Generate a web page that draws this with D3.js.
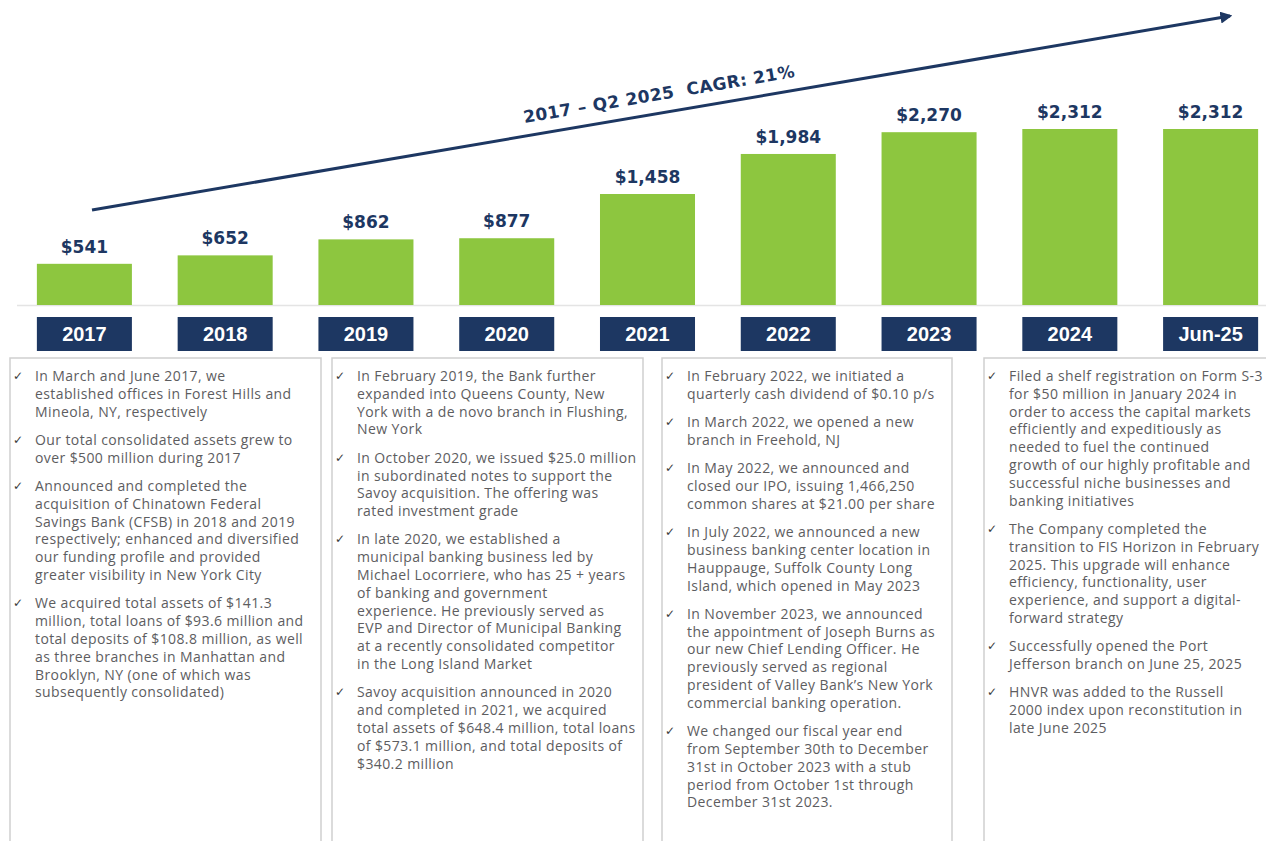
<!DOCTYPE html>
<html>
<head>
<meta charset="utf-8">
<script src="https://cdn.jsdelivr.net/npm/d3@7"></script>
<style>
  html, body { margin: 0; padding: 0; background: #ffffff; }
  svg { display: block; }
</style>
</head>
<body>
<svg id="chart" width="1266" height="841"></svg>
<script>
// categories and total assets ($ millions)
const periods = ['2017', '2018', '2019', '2020', '2021', '2022', '2023', '2024', 'Jun-25'];
const assets = [541, 652, 862, 877, 1458, 1984, 2270, 2312, 2312];
const valueLabels = ['$541', '$652', '$862', '$877', '$1,458', '$1,984', '$2,270', '$2,312', '$2,312'];
const cagrLabel = '2017 \u2013 Q2 2025  CAGR: 21%';

// milestone bullets, one list per column (lines kept as broken in the slide)
const col2017 = [
  ['In March and June 2017, we', 'established offices in Forest Hills and', 'Mineola, NY, respectively'],
  ['Our total consolidated assets grew to', 'over $500 million during 2017'],
  ['Announced and completed the', 'acquisition of Chinatown Federal', 'Savings Bank (CFSB) in 2018 and 2019', 'respectively; enhanced and diversified', 'our funding profile and provided', 'greater visibility in New York City'],
  ['We acquired total assets of $141.3', 'million, total loans of $93.6 million and', 'total deposits of $108.8 million, as well', 'as three branches in Manhattan and', 'Brooklyn, NY (one of which was', 'subsequently consolidated)']
];
const col2019 = [
  ['In February 2019, the Bank further', 'expanded into Queens County, New', 'York with a de novo branch in Flushing,', 'New York'],
  ['In October 2020, we issued $25.0 million', 'in subordinated notes to support the', 'Savoy acquisition. The offering was', 'rated investment grade'],
  ['In late 2020, we established a', 'municipal banking business led by', 'Michael Locorriere, who has 25 + years', 'of banking and government', 'experience. He previously served as', 'EVP and Director of Municipal Banking', 'at a recently consolidated competitor', 'in the Long Island Market'],
  ['Savoy acquisition announced in 2020', 'and completed in 2021, we acquired', 'total assets of $648.4 million, total loans', 'of $573.1 million, and total deposits of', '$340.2 million']
];
const col2022 = [
  ['In February 2022, we initiated a', 'quarterly cash dividend of $0.10 p/s'],
  ['In March 2022, we opened a new', 'branch in Freehold, NJ'],
  ['In May 2022, we announced and', 'closed our IPO, issuing 1,466,250', 'common shares at $21.00 per share'],
  ['In July 2022, we announced a new', 'business banking center location in', 'Hauppauge, Suffolk County Long', 'Island, which opened in May 2023'],
  ['In November 2023, we announced', 'the appointment of Joseph Burns as', 'our new Chief Lending Officer. He', 'previously served as regional', 'president of Valley Bank\u2019s New York', 'commercial banking operation.'],
  ['We changed our fiscal year end', 'from September 30th to December', '31st in October 2023 with a stub', 'period from October 1st through', 'December 31st 2023.']
];
const col2024 = [
  ['Filed a shelf registration on Form S-3', 'for $50 million in January 2024 in', 'order to access the capital markets', 'efficiently and expeditiously as', 'needed to fuel the continued', 'growth of our highly profitable and', 'successful niche businesses and', 'banking initiatives'],
  ['The Company completed the', 'transition to FIS Horizon in February', '2025. This upgrade will enhance', 'efficiency, functionality, user', 'experience, and support a digital-', 'forward strategy'],
  ['Successfully opened the Port', 'Jefferson branch on June 25, 2025'],
  ['HNVR was added to the Russell', '2000 index upon reconstitution in', 'late June 2025']
];
const columns = [col2017, col2019, col2022, col2024];

const navy = '#1d3762';
const green = '#8dc63f';
const textGrey = '#5d5d5f';

const svg = d3.select('#chart');
const baseY = 305;

svg.append('rect').attr('width', 1266).attr('height', 841).attr('fill', '#ffffff');

const x = d3.scaleBand()
  .domain(periods)
  .range([14, 1281])
  .paddingInner(0.325)
  .paddingOuter(0.1625);

const y = d3.scaleLinear()
  .domain([0, 2312])
  .range([baseY, 129]);

// faint baseline
svg.append('line')
  .attr('x1', 17).attr('x2', 1266)
  .attr('y1', baseY + 0.5).attr('y2', baseY + 0.5)
  .attr('stroke', '#e4e4e4').attr('stroke-width', 1.5);

// bars
svg.append('g').selectAll('rect')
  .data(periods)
  .join('rect')
  .attr('x', d => x(d))
  .attr('y', (d, i) => y(assets[i]))
  .attr('width', x.bandwidth())
  .attr('height', (d, i) => baseY - y(assets[i]))
  .attr('fill', green);

// value labels above bars
svg.append('g').selectAll('text')
  .data(periods)
  .join('text')
  .attr('x', d => x(d) + x.bandwidth() / 2)
  .attr('y', (d, i) => y(assets[i]) - 11)
  .attr('text-anchor', 'middle')
  .attr('font-family', 'DejaVu Sans, sans-serif')
  .attr('font-weight', 'bold')
  .attr('font-size', 17)
  .attr('fill', navy)
  .text((d, i) => valueLabels[i]);

// year boxes
const yearG = svg.append('g');
yearG.selectAll('rect')
  .data(periods)
  .join('rect')
  .attr('x', d => x(d))
  .attr('y', 317)
  .attr('width', x.bandwidth())
  .attr('height', 34)
  .attr('fill', navy);
yearG.selectAll('text')
  .data(periods)
  .join('text')
  .attr('x', d => x(d) + x.bandwidth() / 2)
  .attr('y', 341)
  .attr('text-anchor', 'middle')
  .attr('font-family', 'Liberation Sans, Arial, sans-serif')
  .attr('font-weight', 'bold')
  .attr('font-size', 20)
  .attr('fill', '#ffffff')
  .text(d => d);

// growth arrow
const defs = svg.append('defs');
defs.append('marker')
  .attr('id', 'arrowHead')
  .attr('viewBox', '0 0 10 10')
  .attr('refX', 8).attr('refY', 5)
  .attr('markerWidth', 4).attr('markerHeight', 4)
  .attr('orient', 'auto')
  .append('path')
  .attr('d', 'M0,0 L10,5 L0,10 z')
  .attr('fill', navy);

const arrowStart = [92, 210];
const arrowEnd = [1230, 16];
svg.append('line')
  .attr('x1', arrowStart[0]).attr('y1', arrowStart[1])
  .attr('x2', arrowEnd[0]).attr('y2', arrowEnd[1])
  .attr('stroke', navy)
  .attr('stroke-width', 3)
  .attr('marker-end', 'url(#arrowHead)');

const angle = Math.atan2(arrowEnd[1] - arrowStart[1], arrowEnd[0] - arrowStart[0]) * 180 / Math.PI;
svg.append('text')
  .attr('transform', `translate(660,100) rotate(${angle})`)
  .attr('text-anchor', 'middle')
  .attr('font-family', 'DejaVu Sans, sans-serif')
  .attr('font-weight', 'bold')
  .attr('font-size', 17)
  .attr('letter-spacing', 0.4)
  .style('white-space', 'pre')
  .attr('fill', navy)
  .text(cagrLabel);

// milestone columns
const colBoxes = [[10, 321], [332, 643], [662, 952], [984, 1272]];
const lineH = 17.8;
const paraGap = 10.5;

columns.forEach((bullets, c) => {
  const [x0, x1] = colBoxes[c];
  const g = svg.append('g');
  g.append('rect')
    .attr('x', x0).attr('y', 358)
    .attr('width', x1 - x0).attr('height', 500)
    .attr('fill', 'none')
    .attr('stroke', '#cfcfcf')
    .attr('stroke-width', 1.5);

  let yy = 381;
  bullets.forEach(lines => {
    g.append('text')
      .attr('x', x0 + 3).attr('y', yy - 1)
      .attr('font-family', 'DejaVu Sans, sans-serif')
      .attr('font-size', 12)
      .attr('fill', '#3a3a3a')
      .text('\u2713');
    const t = g.append('text')
      .attr('font-family', 'Open Sans, sans-serif')
      .attr('font-size', 14)
      .attr('letter-spacing', 0.4)
      .attr('fill', textGrey);
    lines.forEach((ln, i) => {
      t.append('tspan')
        .attr('x', x0 + 25)
        .attr('y', yy + i * lineH)
        .text(ln);
    });
    yy += lines.length * lineH + paraGap;
  });
});
</script>
</body>
</html>
